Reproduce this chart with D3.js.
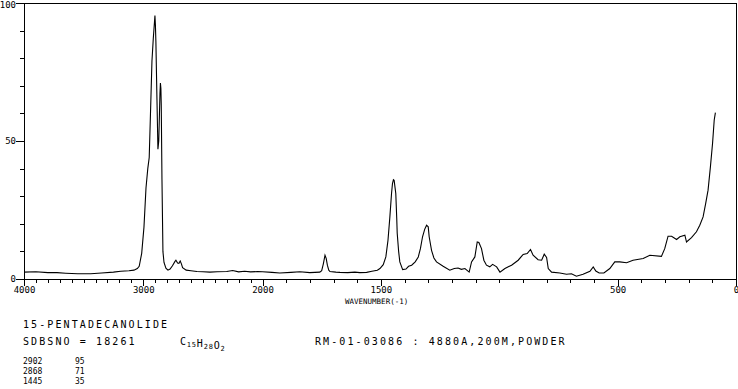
<!DOCTYPE html>
<html>
<head>
<meta charset="utf-8">
<script src="https://cdn.jsdelivr.net/npm/d3@7"></script>
<style>
  body { margin: 0; background: #fff; }
  svg { display: block; }
  text { font-family: 'DejaVu Sans Mono', monospace; fill: #000; }
</style>
</head>
<body>
<svg id="chart" width="738" height="389"></svg>
<script>
// raman shift (cm-1) and relative intensity
var ramanShift = [4000, 3900, 3800, 3723, 3650, 3550, 3441, 3350, 3250, 3189, 3120, 3078, 3050, 3034, 3013, 2994, 2977, 2962, 2950, 2938,
  2927, 2916, 2906, 2902, 2898, 2894, 2885, 2877, 2870, 2864, 2860, 2856, 2852, 2849, 2843, 2835, 2826, 2810, 2793, 2775,
  2755, 2735, 2726, 2712, 2701, 2690, 2680, 2670, 2640, 2600, 2550, 2500, 2441, 2380, 2300, 2250, 2200, 2150, 2100, 2040,
  2000, 1960, 1927, 1880, 1842, 1800, 1758, 1750, 1743, 1736, 1731, 1726, 1720, 1715, 1690, 1673, 1640, 1610, 1589, 1560,
  1538, 1515, 1504, 1490, 1479, 1470, 1462, 1455, 1451, 1447, 1444, 1440, 1437, 1433, 1431, 1425, 1420, 1408, 1394, 1383,
  1370, 1355, 1342, 1333, 1324, 1315, 1307, 1300, 1296, 1286, 1276, 1265, 1237, 1209, 1190, 1174, 1160, 1145, 1127, 1117,
  1103, 1093, 1086, 1075, 1065, 1054, 1040, 1028, 1011, 997, 976, 948, 920, 899, 882, 868, 857, 836, 821, 810,
  800, 793, 779, 744, 716, 695, 674, 646, 617, 603, 592, 578, 558, 533, 512, 491, 462, 435, 392, 364,
  315, 301, 287, 272, 251, 237, 216, 209, 188, 167, 153, 139, 128, 118, 108, 99, 92, 87];
var intensity = [2.5, 2.6, 2.3, 2.3, 2.1, 1.9, 1.9, 2.2, 2.5, 2.8, 3.0, 3.2, 3.8, 4.6, 9.3, 18.8, 33, 40, 44, 62,
  79, 87, 93, 95.5, 92, 86, 65, 47, 50, 60, 67, 71, 69, 63, 36, 10, 6, 3.9, 3.2, 3.6,
  4.8, 6.3, 6.8, 5.8, 5.7, 6.5, 5.5, 4.1, 3.2, 3.0, 2.7, 2.6, 2.5, 2.6, 2.7, 3.1, 2.6, 2.8, 2.6, 2.7,
  2.6, 2.4, 2.2, 2.4, 2.6, 2.3, 2.5, 3.0, 5.5, 8.6, 7.5, 5.0, 3.2, 2.7, 2.5, 2.4, 2.3, 2.5, 2.3, 2.4,
  2.8, 3.2, 3.8, 5.2, 8, 14, 22.5, 31, 34.6, 36, 35.8, 33, 31, 22, 16.6, 10, 6.2, 3.4, 3.6, 4.6,
  5, 6.2, 8, 11, 15.3, 18, 19.5, 18.9, 15.3, 10.4, 7.6, 6.2, 4.6, 3.2, 3.8, 4.0, 3.5, 3.8, 2.5, 6.2,
  8, 13.4, 13.2, 11, 6.8, 5, 4.4, 5.3, 4.4, 2.5, 3.8, 5, 6.8, 8.9, 9.2, 10.7, 8.6, 7, 6.8, 9,
  7.8, 3.8, 2.5, 2.2, 1.7, 1.9, 1.0, 1.7, 2.8, 4.4, 2.9, 2.2, 2.2, 3.8, 6.2, 6.2, 5.9, 6.8, 7.4, 8.6,
  8.2, 11, 15.5, 15.5, 14.3, 15.3, 15.9, 13.4, 15, 17.1, 19.5, 22.5, 27.4, 32.2, 40.7, 49.2, 57.6, 60.3];

var xLabels = [4000, 3000, 2000, 1500, 500, 0];
var yLabels = [0, 50, 100];

var compound = '15-PENTADECANOLIDE';
var sdbsNo = 'SDBSNO = 18261';
var formula = [['C', '15'], ['H', '28'], ['O', '2']];
var conditions = 'RM-01-03086 : 4880A,200M,POWDER';
var peakShift = ['2902', '2868', '1445'];
var peakValue = ['95', '71', '35'];

var
  svg = d3.select('#chart'),
  // scale doubles below 2000 cm-1
  xScale = d3.scaleLinear().domain([4000, 2000, 0]).range([24, 262.5, 736]),
  yScale = d3.scaleLinear().domain([0, 100]).range([279, 3]),
  spectrum = ramanShift.map((w, i) => ({w: w, v: intensity[i]})),
  line = d3.line().x(d => xScale(d.w)).y(d => yScale(d.v))
  ;

// frame
svg.append('rect')
  .attr('x', 24.5).attr('y', 3.5)
  .attr('width', 712).attr('height', 275.5)
  .attr('fill', 'none').attr('stroke', '#000')
  .attr('shape-rendering', 'crispEdges');

var xAxis = d3.axisBottom(xScale)
  .tickValues(d3.range(0, 4001, 100))
  .tickSize(4)
  .tickPadding(3)
  .tickFormat(d => xLabels.includes(d) ? d : '');

var gx = svg.append('g')
  .attr('class', 'axis axis--x')
  .attr('transform', 'translate(0,279)')
  .call(xAxis);
gx.select('.domain').remove();
gx.selectAll('.tick line')
  .attr('y2', d => xLabels.includes(d) ? 7 : 4);
gx.selectAll('.tick text')
  .attr('y', 8)
  .attr('font-size', '9px')
  .attr('font-family', 'DejaVu Sans Mono');

var yAxis = d3.axisLeft(yScale)
  .tickValues(d3.range(0, 101, 10))
  .tickSize(4)
  .tickPadding(2)
  .tickFormat(d => yLabels.includes(d) ? d : '');

var gy = svg.append('g')
  .attr('class', 'axis axis--y')
  .attr('transform', 'translate(24,0)')
  .call(yAxis);
gy.select('.domain').remove();
gy.selectAll('.tick line')
  .attr('x2', d => yLabels.includes(d) ? -8 : -4);
gy.selectAll('.tick text')
  .attr('x', -8)
  .attr('y', d => d === 100 ? 1.5 : 0)
  .attr('font-size', '9px')
  .attr('font-family', 'DejaVu Sans Mono');

svg.selectAll('.axis line').attr('stroke', '#000').attr('shape-rendering', 'crispEdges');

svg.append('text')
  .attr('x', 345).attr('y', 304)
  .attr('font-size', '7.5px')
  .text('WAVENUMBER(-1)');

svg.append('path')
  .datum(spectrum)
  .attr('d', line)
  .attr('fill', 'none')
  .attr('stroke', '#000')
  .attr('stroke-width', 1.1);

// header block
var info = svg.append('g').attr('font-size', '10px').attr('letter-spacing', '2.1px');
info.append('text').attr('x', 23).attr('y', 328).text(compound);
info.append('text').attr('x', 23).attr('y', 345).text(sdbsNo);
info.append('text').attr('x', 315).attr('y', 345).text(conditions);

var f = info.append('text').attr('x', 180).attr('y', 345).attr('letter-spacing', '0.8px');
formula.forEach(p => {
  f.append('tspan').attr('dy', 0).text(p[0]);
  f.append('tspan').attr('font-size', '7px').attr('dy', 2).text(p[1]);
  f.append('tspan').attr('dy', -2).text('');
});

var peaks = svg.append('g').attr('font-size', '8px');
peakShift.forEach((p, i) => {
  peaks.append('text').attr('x', 23).attr('y', 364 + i * 10).text(p);
  peaks.append('text').attr('x', 75).attr('y', 364 + i * 10).text(peakValue[i]);
});
</script>
</body>
</html>
